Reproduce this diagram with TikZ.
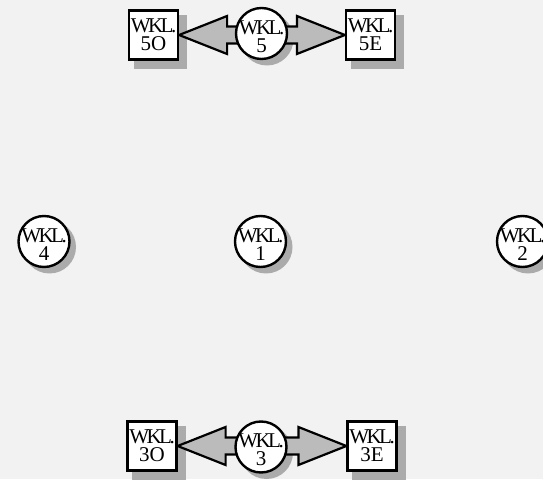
\documentclass[tikz,border=0pt]{standalone}
\usepackage{fontspec}
\setmainfont{Liberation Serif}
\usetikzlibrary{calc}
\pgfdeclarelayer{bgl}
\pgfdeclarelayer{shadowl}
\pgfdeclarelayer{arrowl}
\pgfsetlayers{bgl,shadowl,arrowl,main}
\definecolor{bgc}{HTML}{F2F2F2}
\definecolor{shc}{HTML}{ABABAB}
\definecolor{arc}{HTML}{BBBBBB}
\newcommand\wkl{W\kern-2.6pt K\kern-2.6pt L\kern-2.4pt.}
\tikzset{
  wfont/.style={font=\fontsize{21}{18}\selectfont, align=center},
  wbox/.style={wfont, rectangle, inner sep=0pt, line width=2.2pt, draw=black, fill=white, minimum size=49pt},
  wcirc/.style={circle, inner sep=0pt, line width=2.4pt, draw=black, fill=white, minimum size=51pt},
  wlab/.style={wfont, inner sep=0pt, yshift=-3pt},
  shad/.style={fill=shc, draw=none},
  fatarrow/.style={fill=arc, draw=black, line width=2.2pt, line join=miter},
}
\newcommand\fatarr[3]{\draw[fatarrow] (#1) -- ++(#3*48,19) -- ++(0,-10.5) -- ($(#2|-#1)+(0,8.5)$) -- ++(0,-17) -- ($(#1)+(#3*48,-8.5)$) -- ++(0,-10.5) -- cycle;}
\begin{document}
\begin{tikzpicture}[x=1pt,y=1pt]
\useasboundingbox (0,0) rectangle (543,479);
\begin{pgfonlayer}{bgl}
  \fill[bgc] (0,0) rectangle (543,479);
\end{pgfonlayer}
% top row
\node[wbox] (b5o) at (153.5,444) {\wkl\\5O};
\node[wcirc, label={[wlab]center:\wkl\\5}] (c5) at (261.5,445.5) {};
\node[wbox] (b5e) at (370.5,444) {\wkl\\5E};
% middle row
\node[wcirc, label={[wlab]center:\wkl\\4}] (c4) at (44,237.5) {};
\node[wcirc, label={[wlab]center:\wkl\\1}] (c1) at (260.5,237.5) {};
\node[wcirc, label={[wlab]center:\wkl\\2}] (c2) at (522.5,237.5) {};
% bottom row
\node[wbox] (b3o) at (152,33) {\wkl\\3O};
\node[wcirc, label={[wlab]center:\wkl\\3}] (c3) at (261,32) {};
\node[wbox] (b3e) at (372,33) {\wkl\\3E};
\begin{pgfonlayer}{shadowl}
  \foreach \n in {b5o,b5e,b3o,b3e}
    \fill[shad] ($(\n.south west)+(6,-8)$) rectangle ($(\n.north east)+(8,-6)$);
  \foreach \n in {c5,c4,c1,c2,c3}
    \fill[shad] ($(\n)+(5.5,-5.5)$) circle (26.5pt);
\end{pgfonlayer}
\begin{pgfonlayer}{arrowl}
  \fatarr{b5o.east}{c5}{1}
  \fatarr{b5e.west}{c5}{-1}
  \fatarr{b3o.east}{c3}{1}
  \fatarr{b3e.west}{c3}{-1}
\end{pgfonlayer}
\end{tikzpicture}
\end{document}
